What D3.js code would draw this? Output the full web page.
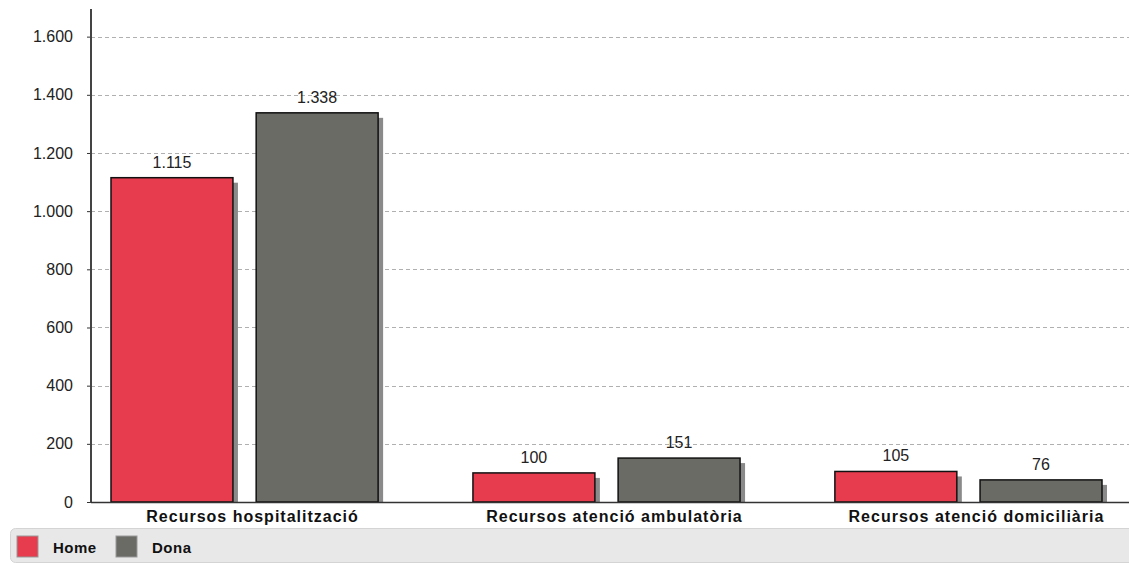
<!DOCTYPE html>
<html>
<head>
<meta charset="utf-8">
<script src="https://cdn.jsdelivr.net/npm/d3@7"></script>
<style>
  html, body { margin: 0; padding: 0; background: #fff; }
  svg { display: block; font-family: "Liberation Sans", Arial, sans-serif; }
</style>
</head>
<body>
<svg id="chart" width="1129" height="563"></svg>
<script>
const categories = ["Recursos hospitalització", "Recursos atenció ambulatòria", "Recursos atenció domiciliària"];
const seriesNames = ["Home", "Dona"];
const homeValues = [1115, 100, 105];
const donaValues = [1338, 151, 76];
const yTicks = [0, 200, 400, 600, 800, 1000, 1200, 1400, 1600];
const colors = ["#e63c4e", "#6b6b66"];

const locale = d3.formatLocale({ decimal: ",", thousands: ".", grouping: [3], currency: ["", " €"] });
const fmt = locale.format(",d");

const svg = d3.select("#chart");
const plotLeft = 91, plotRight = 1129, plotTop = 9, plotBase = 502;
const FONT = "'Liberation Sans', Arial, sans-serif";

const y = d3.scaleLinear().domain([0, 1695]).range([plotBase, plotTop]);
const x0 = d3.scaleBand().domain(categories).range([111, 1102]).paddingInner(0.262).paddingOuter(0);
const x1 = d3.scaleBand().domain(seriesNames).range([0, x0.bandwidth()]).paddingInner(0.16).paddingOuter(0);

// grid lines
svg.append("g").selectAll("line").data(yTicks.filter(d => d > 0)).join("line")
  .attr("x1", plotLeft).attr("x2", plotRight)
  .attr("y1", d => Math.round(y(d)) + 0.5).attr("y2", d => Math.round(y(d)) + 0.5)
  .attr("stroke", "#b0b0b0").attr("stroke-dasharray", "4,3").attr("stroke-width", 1);

// y axis
const yAxis = d3.axisLeft(y).tickValues(yTicks).tickFormat(fmt).tickSize(4).tickPadding(14);
const gy = svg.append("g").attr("transform", `translate(${plotLeft},0)`).call(yAxis);
gy.select(".domain").remove();
gy.selectAll(".tick line").attr("stroke", "#333");
gy.selectAll(".tick text").attr("fill", "#222").style("font-size", "16px").style("font-family", FONT);
svg.append("line").attr("x1", plotLeft).attr("x2", plotLeft).attr("y1", plotTop).attr("y2", plotBase + 1)
  .attr("stroke", "#444").attr("stroke-width", 2);

const data = categories.map((c, i) => ({ cat: c, vals: [
  { key: "Home", v: homeValues[i] }, { key: "Dona", v: donaValues[i] } ] }));

const groups = svg.append("g").selectAll("g").data(data).join("g")
  .attr("transform", d => `translate(${x0(d.cat)},0)`);

// shadows
groups.selectAll("rect.shadow").data(d => d.vals).join("rect").attr("class", "shadow")
  .attr("x", d => x1(d.key) + 5)
  .attr("y", d => y(d.v) + 5)
  .attr("width", x1.bandwidth())
  .attr("height", d => Math.max(0, plotBase - y(d.v) - 5))
  .attr("fill", "#8a8a8a");

// bars
groups.selectAll("rect.bar").data(d => d.vals).join("rect").attr("class", "bar")
  .attr("x", d => x1(d.key))
  .attr("y", d => y(d.v))
  .attr("width", x1.bandwidth())
  .attr("height", d => plotBase - y(d.v))
  .attr("fill", d => colors[seriesNames.indexOf(d.key)])
  .attr("stroke", "#111").attr("stroke-width", 1.5);

// value labels
groups.selectAll("text.val").data(d => d.vals).join("text").attr("class", "val")
  .attr("x", d => x1(d.key) + x1.bandwidth() / 2)
  .attr("y", d => y(d.v) - 10)
  .attr("text-anchor", "middle")
  .attr("fill", "#222").style("font-size", "16px")
  .text(d => fmt(d.v));

// x axis baseline
svg.append("line").attr("x1", plotLeft).attr("x2", plotRight).attr("y1", plotBase + 0.5).attr("y2", plotBase + 0.5)
  .attr("stroke", "#333").attr("stroke-width", 1.5);

// category labels
svg.append("g").selectAll("text").data(categories).join("text")
  .attr("x", d => x0(d) + x0.bandwidth() / 2 + 8)
  .attr("y", 521.5)
  .attr("text-anchor", "middle")
  .attr("fill", "#111").style("font-size", "16px").style("font-weight", "bold")
  .style("letter-spacing", "1px")
  .text(d => d);

// legend
const lg = svg.append("g");
lg.append("rect").attr("x", 10.5).attr("y", 528.5).attr("width", 1130).attr("height", 34).attr("rx", 5)
  .attr("fill", "#e8e8e8").attr("stroke", "#d4d4d4");
const items = lg.selectAll("g").data(seriesNames).join("g")
  .attr("transform", (d, i) => `translate(${17 + i * 99},536)`);
items.append("rect").attr("width", 21).attr("height", 21)
  .attr("fill", (d, i) => colors[i]).attr("stroke", "#999").attr("stroke-width", 1);
items.append("text").attr("x", 36).attr("y", 17)
  .attr("fill", "#111").style("font-size", "15px").style("font-weight", "bold")
  .style("letter-spacing", "0.5px")
  .text(d => d);
</script>
</body>
</html>
